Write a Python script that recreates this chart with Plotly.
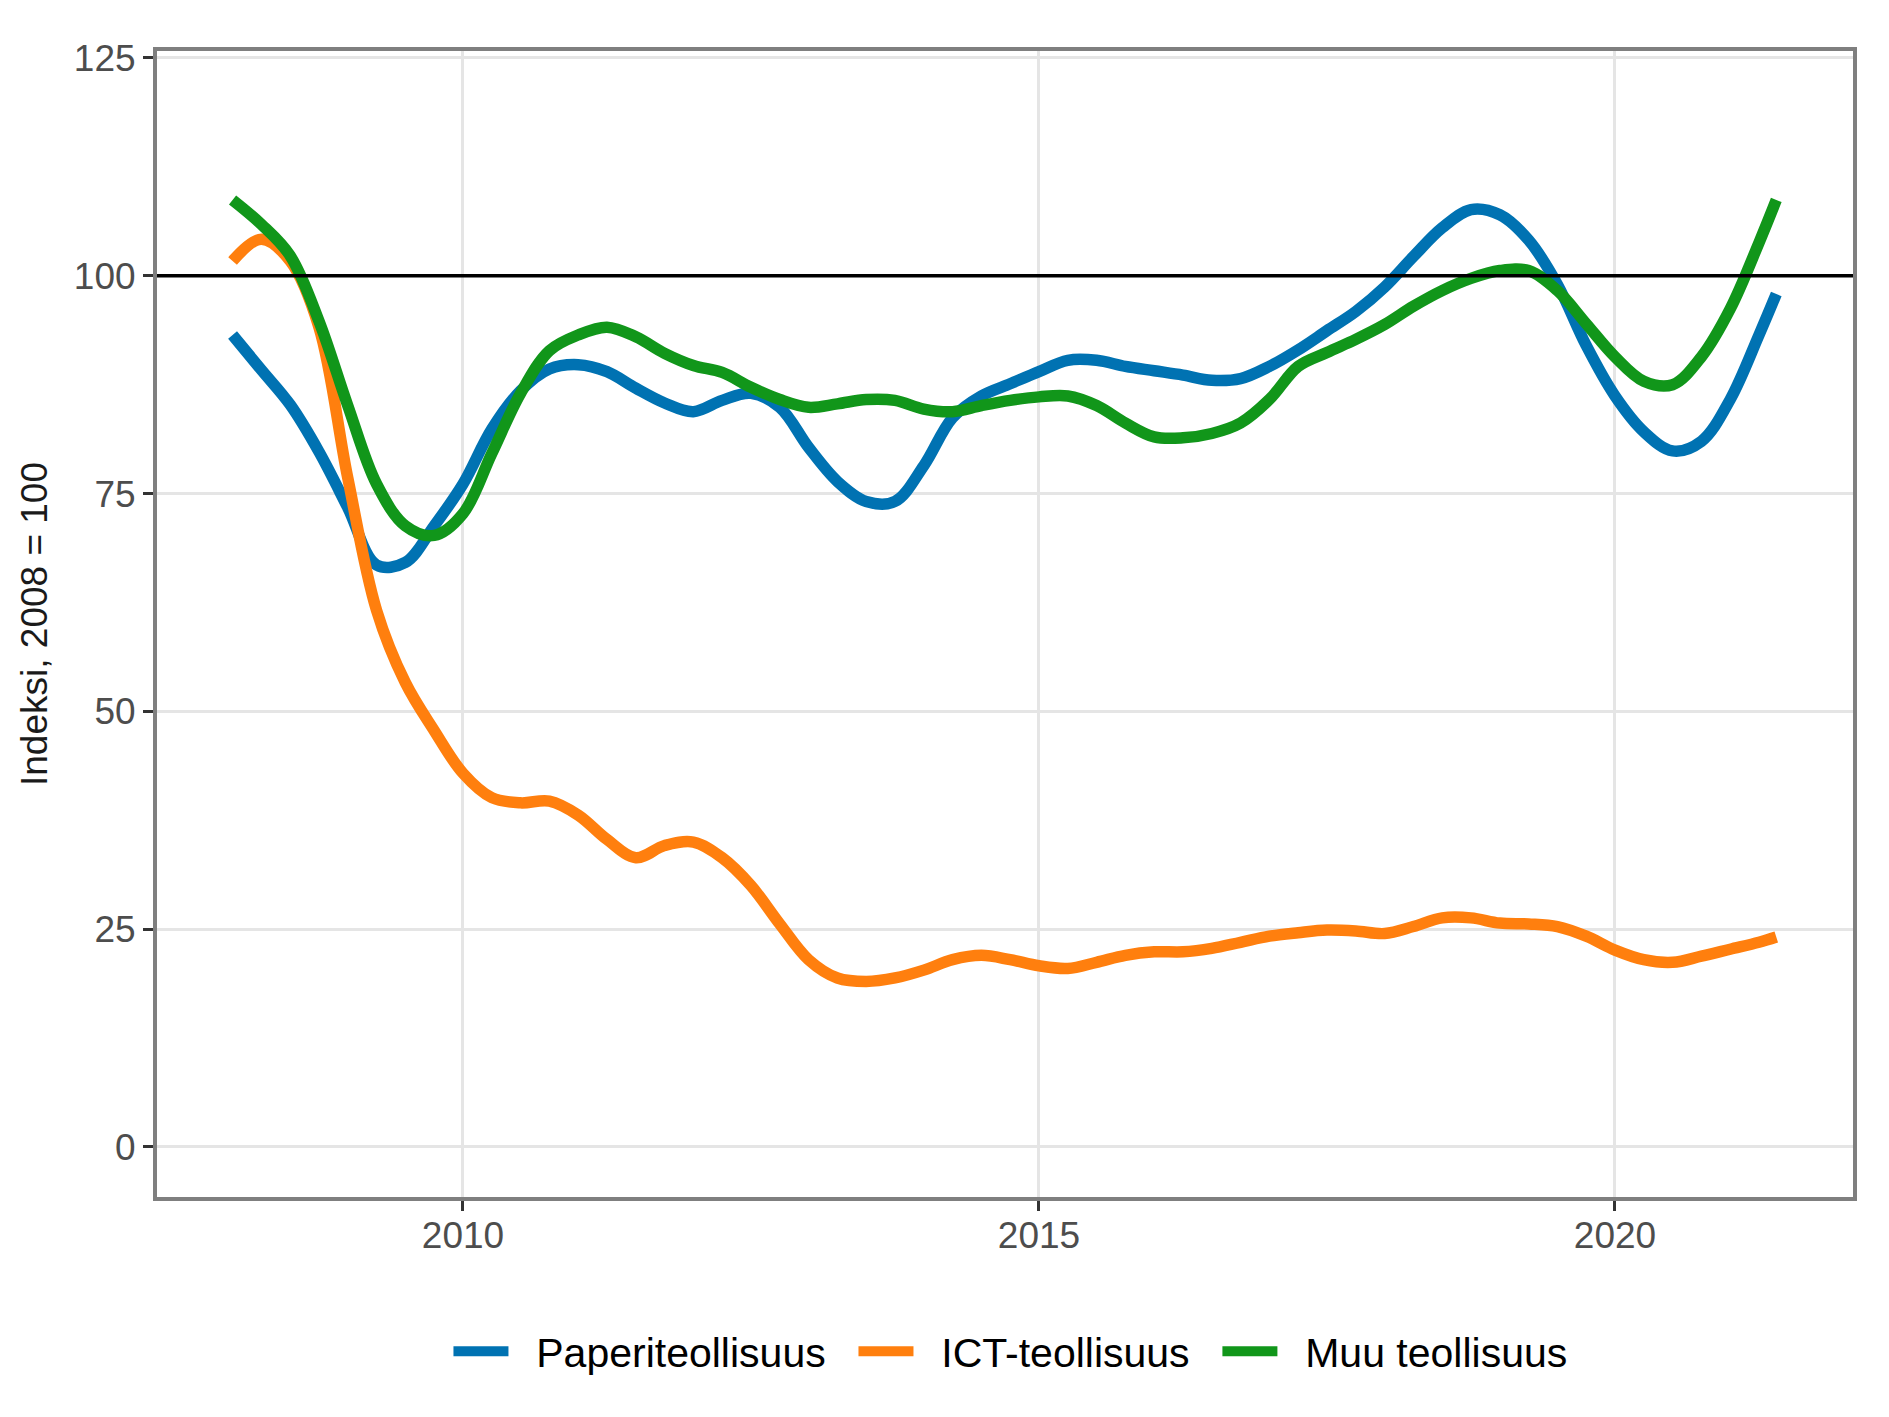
import plotly.graph_objects as go

# Decimal years (quarterly, last point May 2021)
years = [2008.00, 2008.25, 2008.50, 2008.75, 2009.00, 2009.25, 2009.50, 2009.75,
         2010.00, 2010.25, 2010.50, 2010.75, 2011.00, 2011.25, 2011.50, 2011.75,
         2012.00, 2012.25, 2012.50, 2012.75, 2013.00, 2013.25, 2013.50, 2013.75,
         2014.00, 2014.25, 2014.50, 2014.75, 2015.00, 2015.25, 2015.50, 2015.75,
         2016.00, 2016.25, 2016.50, 2016.75, 2017.00, 2017.25, 2017.50, 2017.75,
         2018.00, 2018.25, 2018.50, 2018.75, 2019.00, 2019.25, 2019.50, 2019.75,
         2020.00, 2020.25, 2020.50, 2020.75, 2021.00, 2021.25, 2021.40]

paperi = [93.2, 89.2, 85.2, 79.8, 73.4, 66.8, 67.1, 71.3,
          76.1, 82.4, 86.8, 89.3, 89.8, 89.0, 87.1, 85.4,
          84.4, 85.7, 86.5, 84.9, 80.3, 76.4, 74.1, 74.1,
          78.2, 83.7, 86.2, 87.6, 89.0, 90.3, 90.3, 89.6,
          89.1, 88.6, 88.0, 88.2, 89.6, 91.5, 93.7, 95.9,
          98.7, 102.2, 105.5, 107.6, 107.0, 104.1, 99.0, 92.0,
          86.2, 82.1, 79.9, 81.0, 85.8, 93.2, 97.9]

ict = [101.7, 104.2, 101.7, 94.1, 76.8, 61.6, 53.3, 47.8,
       42.9, 40.1, 39.5, 39.7, 38.1, 35.3, 33.2, 34.6,
       35.0, 33.2, 30.0, 25.6, 21.5, 19.4, 19.0, 19.4,
       20.3, 21.5, 22.0, 21.5, 20.8, 20.5, 21.2, 22.0,
       22.4, 22.4, 22.8, 23.5, 24.2, 24.6, 24.9, 24.8,
       24.5, 25.3, 26.3, 26.3, 25.7, 25.6, 25.3, 24.2,
       22.6, 21.5, 21.2, 21.9, 22.7, 23.5, 24.1]

muu = [108.7, 105.9, 102.3, 94.8, 85.1, 76.1, 71.3, 70.2,
       72.7, 79.6, 86.5, 91.4, 93.2, 94.1, 93.0, 91.1,
       89.7, 88.9, 87.2, 85.8, 84.9, 85.3, 85.8, 85.7,
       84.7, 84.4, 85.1, 85.7, 86.1, 86.2, 85.1, 83.1,
       81.5, 81.4, 81.9, 83.1, 85.8, 89.6, 91.2, 92.7,
       94.4, 96.5, 98.3, 99.7, 100.6, 100.6, 98.3, 94.5,
       90.7, 87.9, 87.5, 90.7, 96.2, 103.8, 108.7]

series_names = ["Paperiteollisuus", "ICT-teollisuus", "Muu teollisuus"]
series_values = [paperi, ict, muu]
series_colors = ["#0072B2", "#FF7F0E", "#11961A"]

x_ticks = [2010, 2015, 2020]
y_ticks = [0, 25, 50, 75, 100, 125]
reference_level = 100
y_title = "Indeksi, 2008 = 100"

FONT = "Liberation Sans, Arial, sans-serif"
NBSP = "\u00a0"

fig = go.Figure()
for name, vals, col in zip(series_names, series_values, series_colors):
    fig.add_trace(go.Scatter(
        x=years, y=vals, name=NBSP * 2 + name + NBSP * 2, mode="lines",
        line=dict(color=col, width=11.5, shape="spline", smoothing=1.0),
    ))

fig.add_hline(y=reference_level, line=dict(color="black", width=3.5), layer="above")

fig.update_layout(
    width=1889, height=1417,
    margin=dict(l=149, r=44, t=43, b=228),
    paper_bgcolor="white", plot_bgcolor="white",
    font=dict(family=FONT, size=37, color="#4D4D4D"),
    showlegend=True,
    legend=dict(
        orientation="h", x=0.51, xanchor="center", y=-0.1348, yanchor="middle",
        font=dict(family=FONT, size=41, color="black"),
        itemwidth=55, tracegroupgap=0, bgcolor="rgba(0,0,0,0)",
    ),
)

fig.update_xaxes(
    range=[2007.344, 2022.066], tickvals=x_ticks, ticktext=[str(t) for t in x_ticks],
    showgrid=True, gridcolor="#E5E5E5", gridwidth=3,
    showline=True, linecolor="#7F7F7F", linewidth=4, mirror=True,
    ticks="outside", ticklen=10, tickwidth=3, tickcolor="#333333",
    tickfont=dict(family=FONT, size=37, color="#4D4D4D"),
    ticklabelstandoff=-7,
    zeroline=False,
)
fig.update_yaxes(
    range=[-5.74, 125.8], tickvals=y_ticks,
    showgrid=True, gridcolor="#E5E5E5", gridwidth=3,
    showline=True, linecolor="#7F7F7F", linewidth=4, mirror=True,
    ticks="outside", ticklen=10, tickwidth=3, tickcolor="#333333",
    tickfont=dict(family=FONT, size=37, color="#4D4D4D"),
    zeroline=False,
    title=dict(text=y_title, font=dict(family=FONT, size=37, color="#1A1A1A"), standoff=16),
)

fig.write_html("out.html")
